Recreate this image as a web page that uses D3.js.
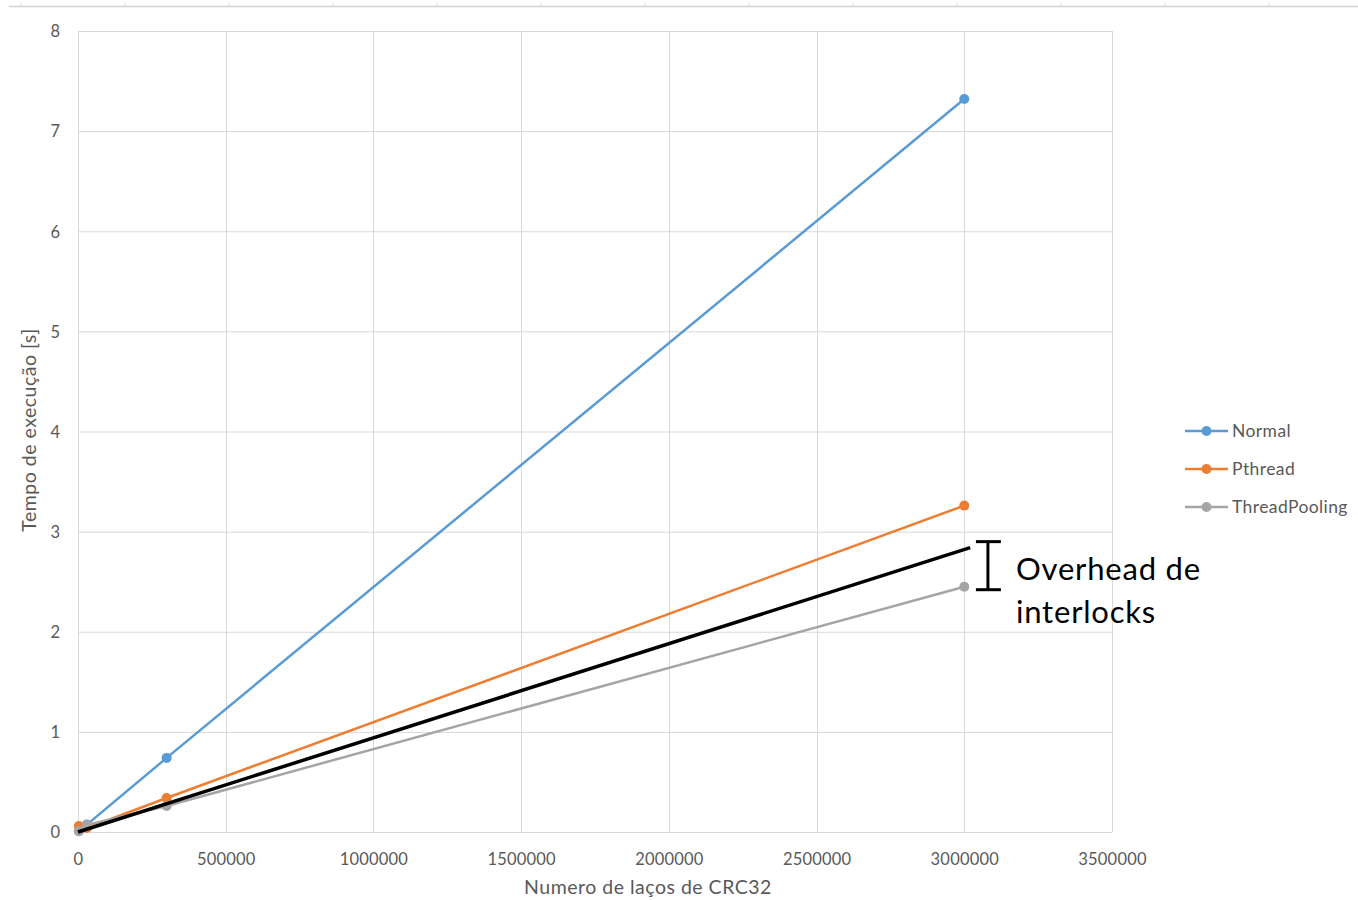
<!DOCTYPE html>
<html>
<head>
<meta charset="utf-8">
<script src="https://cdn.jsdelivr.net/npm/d3@7"></script>
<style>
  body { margin: 0; background: #fff; }
  svg text { font-family: Lato, "Open Sans", sans-serif; }
</style>
</head>
<body>
<div id="container"></div>
<script>
/* DATA */
const loops = [3000, 30000, 300000, 3000000];
const normal = [0.007, 0.074, 0.74, 7.32];
const pthread = [0.06, 0.04, 0.34, 3.26];
const threadPooling = [0.01, 0.07, 0.26, 2.45];
const seriesNames = ["Normal", "Pthread", "ThreadPooling"];
const seriesColors = ["#5B9BD5", "#ED7D31", "#A5A5A5"];
const xTicks = [0, 500000, 1000000, 1500000, 2000000, 2500000, 3000000, 3500000];
const yTicks = [0, 1, 2, 3, 4, 5, 6, 7, 8];
// hand drawn trend line + bracket of the annotation
const overheadLine = [[0, 0], [3020000, 2.84]];
const bracketRange = [2.42, 2.9];

/* CONSTANTS */
const width = 1358,
  height = 900,
  margin = {top: 31, bottom: 68, left: 78, right: 246};

const svg = d3.select("#container")
  .append("svg")
  .attr("width", width)
  .attr("height", height);

const xScale = d3.scaleLinear()
  .domain([0, 3500000])
  .range([margin.left, width - margin.right]);

const yScale = d3.scaleLinear()
  .domain([0, 8])
  .range([height - margin.bottom, margin.top]);

// ruler strip at very top
svg.append("line")
  .attr("x1", 9).attr("x2", width)
  .attr("y1", 6.5).attr("y2", 6.5)
  .attr("stroke", "#d4d4d4")
  .attr("stroke-width", 1.5);
svg.selectAll(".ruler")
  .data(d3.range(21, width, 104))
  .join("line")
  .attr("class", "ruler")
  .attr("x1", d => d).attr("x2", d => d)
  .attr("y1", 3.5).attr("y2", 6)
  .attr("stroke", "#cfcfcf");

// gridlines
svg.append("g")
  .selectAll("line")
  .data(yTicks)
  .join("line")
  .attr("x1", margin.left).attr("x2", width - margin.right)
  .attr("y1", d => yScale(d) + 0.5).attr("y2", d => yScale(d) + 0.5)
  .attr("stroke", "#d9d9d9");

svg.append("g")
  .selectAll("line")
  .data(xTicks)
  .join("line")
  .attr("x1", d => Math.round(xScale(d)) + 0.5).attr("x2", d => Math.round(xScale(d)) + 0.5)
  .attr("y1", margin.top).attr("y2", height - margin.bottom)
  .attr("stroke", "#d9d9d9");

// axes
const xAxis = d3.axisBottom(xScale).tickValues(xTicks).tickSize(0).tickFormat(d3.format("d"));
const yAxis = d3.axisLeft(yScale).tickValues(yTicks).tickSize(0).tickFormat(d3.format("d"));

const xAxisGroup = svg.append("g")
  .attr("transform", `translate(0, ${height - margin.bottom})`)
  .call(xAxis);
xAxisGroup.select(".domain").attr("stroke", "#d9d9d9");
xAxisGroup.selectAll("text")
  .attr("dy", 0)
  .attr("y", 33)
  .attr("fill", "#595959")
  .attr("font-size", 16.5)
  .attr("letter-spacing", 0.2);

const yAxisGroup = svg.append("g")
  .attr("transform", `translate(${margin.left}, 0)`)
  .call(yAxis);
yAxisGroup.select(".domain").attr("stroke", "#d9d9d9");
yAxisGroup.selectAll("text")
  .attr("x", -18)
  .attr("dy", "0.35em")
  .attr("fill", "#595959")
  .attr("font-size", 16.5);

// axis titles
svg.append("text")
  .attr("x", 648)
  .attr("y", 894)
  .attr("text-anchor", "middle")
  .attr("fill", "#595959")
  .attr("font-size", 19.5)
  .attr("letter-spacing", 0.5)
  .text("Numero de laços de CRC32");

svg.append("text")
  .attr("transform", `translate(36, 430) rotate(-90)`)
  .attr("text-anchor", "middle")
  .attr("fill", "#595959")
  .attr("font-size", 19.5)
  .attr("letter-spacing", 0.5)
  .text("Tempo de execução [s]");

// series
const series = [normal, pthread, threadPooling].map((vals, i) => ({
  name: seriesNames[i],
  color: seriesColors[i],
  values: vals.map((v, j) => ({x: loops[j], y: v}))
}));

const line = d3.line().x(d => xScale(d.x)).y(d => yScale(d.y));

const seriesGroup = svg.selectAll(".series")
  .data(series)
  .join("g")
  .attr("class", "series");

seriesGroup.append("path")
  .attr("d", d => line(d.values))
  .attr("fill", "none")
  .attr("stroke", d => d.color)
  .attr("stroke-width", 2.5);

seriesGroup.selectAll("circle")
  .data(d => d.values.map(v => ({...v, color: d.color})))
  .join("circle")
  .attr("cx", d => xScale(d.x))
  .attr("cy", d => yScale(d.y))
  .attr("r", 5)
  .attr("fill", d => d.color);

// black overhead line
svg.append("path")
  .attr("d", d3.line().x(d => xScale(d[0])).y(d => yScale(d[1]))(overheadLine))
  .attr("stroke", "#000")
  .attr("stroke-width", 3.5)
  .attr("fill", "none");

// bracket
const bx = xScale(3080000);
const bTop = yScale(bracketRange[1]), bBot = yScale(bracketRange[0]);
svg.append("line")
  .attr("x1", bx).attr("x2", bx).attr("y1", bTop).attr("y2", bBot)
  .attr("stroke", "#000").attr("stroke-width", 3);
[bTop, bBot].forEach(y => {
  svg.append("line")
    .attr("x1", bx - 12).attr("x2", bx + 13).attr("y1", y).attr("y2", y)
    .attr("stroke", "#000").attr("stroke-width", 3);
});

svg.append("text")
  .attr("x", 1016).attr("y", 580)
  .attr("font-size", 31)
  .attr("letter-spacing", 0.8)
  .attr("fill", "#000")
  .text("Overhead de");
svg.append("text")
  .attr("x", 1016).attr("y", 623)
  .attr("font-size", 31)
  .attr("letter-spacing", 0.8)
  .attr("fill", "#000")
  .text("interlocks");

// legend
const legend = svg.selectAll(".legend")
  .data(series)
  .join("g")
  .attr("class", "legend")
  .attr("transform", (d, i) => `translate(1185, ${431 + i * 38})`);

legend.append("line")
  .attr("x1", 0).attr("x2", 43)
  .attr("stroke", d => d.color)
  .attr("stroke-width", 2.5);
legend.append("circle")
  .attr("cx", 21.5).attr("r", 5)
  .attr("fill", d => d.color);
legend.append("text")
  .attr("x", 47)
  .attr("dy", "0.35em")
  .attr("fill", "#595959")
  .attr("font-size", 17.5)
  .attr("letter-spacing", 0.4)
  .text(d => d.name);
</script>
</body>
</html>
